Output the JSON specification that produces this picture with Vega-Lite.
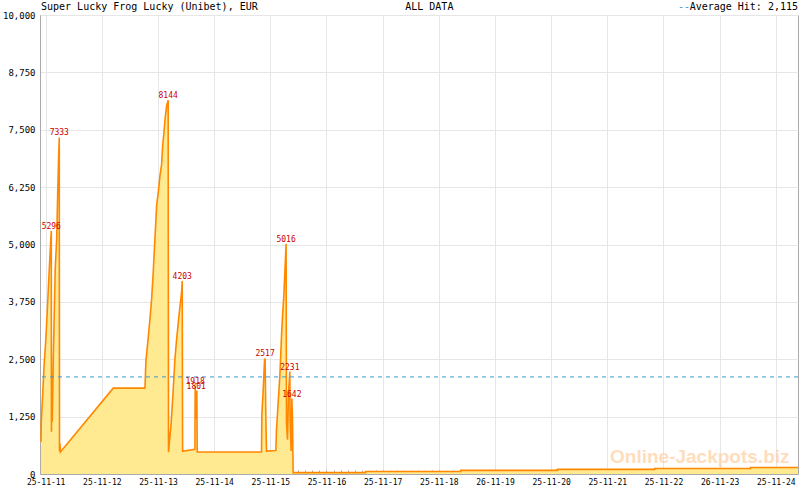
{
  "$schema": "https://vega.github.io/schema/vega-lite/v6.json",
  "autosize": "none",
  "width": 758,
  "height": 459,
  "padding": {"left": 40, "top": 15, "right": 2, "bottom": 16},
  "background": "white",
  "config": {
    "font": "DejaVu Sans Mono",
    "view": {"stroke": "#aaaaaa", "strokeWidth": 1},
    "axis": {"domainColor": "#aaaaaa", "gridColor": "#e6e6e6", "labelColor": "#000000", "labelFont": "DejaVu Sans Mono"}
  },
  "resolve": {"axis": {"x": "independent", "y": "independent"}},
  "datasets": {
    "series": [
      {"d": 10.916, "v": 700},
      {"d": 10.922, "v": 1140},
      {"d": 10.940, "v": 1580},
      {"d": 10.957, "v": 2000},
      {"d": 10.975, "v": 2430},
      {"d": 11.000, "v": 2870},
      {"d": 11.018, "v": 3300},
      {"d": 11.036, "v": 3740},
      {"d": 11.053, "v": 4180},
      {"d": 11.071, "v": 4620},
      {"d": 11.089, "v": 5060},
      {"d": 11.100, "v": 5296, "label": "5296"},
      {"d": 11.103, "v": 920},
      {"d": 11.112, "v": 2120},
      {"d": 11.117, "v": 1140},
      {"d": 11.135, "v": 2470},
      {"d": 11.153, "v": 3500},
      {"d": 11.171, "v": 4510},
      {"d": 11.196, "v": 5100},
      {"d": 11.214, "v": 6120},
      {"d": 11.231, "v": 6920},
      {"d": 11.242, "v": 7333, "label": "7333"},
      {"d": 11.246, "v": 490},
      {"d": 11.254, "v": 670},
      {"d": 11.263, "v": 480},
      {"d": 12.203, "v": 1870},
      {"d": 12.767, "v": 1870},
      {"d": 12.785, "v": 2460},
      {"d": 12.826, "v": 2970},
      {"d": 12.856, "v": 3370},
      {"d": 12.886, "v": 3800},
      {"d": 12.915, "v": 4390},
      {"d": 12.932, "v": 4820},
      {"d": 12.957, "v": 5400},
      {"d": 12.975, "v": 5840},
      {"d": 13.004, "v": 6130},
      {"d": 13.034, "v": 6490},
      {"d": 13.064, "v": 6740},
      {"d": 13.082, "v": 7140},
      {"d": 13.105, "v": 7430},
      {"d": 13.128, "v": 7760},
      {"d": 13.153, "v": 8020},
      {"d": 13.181, "v": 8144, "label": "8144"},
      {"d": 13.187, "v": 475},
      {"d": 13.212, "v": 820},
      {"d": 13.230, "v": 1040},
      {"d": 13.253, "v": 1480},
      {"d": 13.278, "v": 1990},
      {"d": 13.301, "v": 2500},
      {"d": 13.331, "v": 2930},
      {"d": 13.367, "v": 3370},
      {"d": 13.395, "v": 3690},
      {"d": 13.420, "v": 3950},
      {"d": 13.431, "v": 4203, "label": "4203"},
      {"d": 13.438, "v": 497},
      {"d": 13.657, "v": 540},
      {"d": 13.662, "v": 1918, "label": "1918"},
      {"d": 13.674, "v": 1200},
      {"d": 13.680, "v": 1801, "label": "1801"},
      {"d": 13.692, "v": 1801},
      {"d": 13.698, "v": 480},
      {"d": 14.843, "v": 480},
      {"d": 14.849, "v": 1300},
      {"d": 14.872, "v": 1800},
      {"d": 14.897, "v": 2490},
      {"d": 14.907, "v": 2517, "label": "2517"},
      {"d": 14.920, "v": 1225},
      {"d": 14.932, "v": 500},
      {"d": 15.098, "v": 510},
      {"d": 15.110, "v": 970},
      {"d": 15.169, "v": 2130},
      {"d": 15.199, "v": 3000},
      {"d": 15.217, "v": 3440},
      {"d": 15.240, "v": 3870},
      {"d": 15.258, "v": 4380},
      {"d": 15.281, "v": 5016, "label": "5016"},
      {"d": 15.288, "v": 1080},
      {"d": 15.306, "v": 750},
      {"d": 15.324, "v": 1770},
      {"d": 15.347, "v": 2231, "label": "2231"},
      {"d": 15.352, "v": 1190},
      {"d": 15.370, "v": 500},
      {"d": 15.383, "v": 1642, "label": "1642"},
      {"d": 15.395, "v": 1190},
      {"d": 15.406, "v": 30},
      {"d": 16.694, "v": 30},
      {"d": 16.695, "v": 55},
      {"d": 18.390, "v": 55},
      {"d": 18.391, "v": 80},
      {"d": 20.110, "v": 80},
      {"d": 20.111, "v": 100},
      {"d": 21.842, "v": 100},
      {"d": 21.843, "v": 120},
      {"d": 23.550, "v": 120},
      {"d": 23.551, "v": 140},
      {"d": 24.395, "v": 140}
    ],
    "average": [{"avg": 2115}]
  },
  "layer": [
    {
      "data": {"name": "series"},
      "mark": {"type": "area", "color": "#ffe991", "opacity": 1, "line": {"color": "#ff8800", "strokeWidth": 1.6}},
      "encoding": {
        "x": {
          "field": "d",
          "type": "quantitative",
          "scale": {"domain": [10.899, 24.395], "nice": false, "zero": false},
          "axis": {
            "orient": "bottom",
            "title": null,
            "values": [11, 11.125, 11.25, 11.375, 11.5, 11.625, 11.75, 11.875, 12, 12.125, 12.25, 12.375, 12.5, 12.625, 12.75, 12.875, 13, 13.125, 13.25, 13.375, 13.5, 13.625, 13.75, 13.875, 14, 14.125, 14.25, 14.375, 14.5, 14.625, 14.75, 14.875, 15, 15.125, 15.25, 15.375, 15.5, 15.625, 15.75, 15.875, 16, 16.125, 16.25, 16.375, 16.5, 16.625, 16.75, 16.875, 17, 17.125, 17.25, 17.375, 17.5, 17.625, 17.75, 17.875, 18, 18.125, 18.25, 18.375, 18.5, 18.625, 18.75, 18.875, 19, 19.125, 19.25, 19.375, 19.5, 19.625, 19.75, 19.875, 20, 20.125, 20.25, 20.375, 20.5, 20.625, 20.75, 20.875, 21, 21.125, 21.25, 21.375, 21.5, 21.625, 21.75, 21.875, 22, 22.125, 22.25, 22.375, 22.5, 22.625, 22.75, 22.875, 23, 23.125, 23.25, 23.375, 23.5, 23.625, 23.75, 23.875, 24, 24.125, 24.25, 24.375],
            "labelExpr": "datum.value % 1 != 0 ? '' : ((datum.value == 19 || datum.value == 23) ? '26-11-' : '25-11-') + datum.value",
            "labelOverlap": false,
            "labelFlush": false,
            "labelFont": "DejaVu Sans Mono",
            "labelFontSize": 8,
            "labelPadding": 8,
            "tickSize": -4,
            "tickColor": "#aaaaaa",
            "gridOpacity": {"condition": {"test": "datum.value % 1 == 0", "value": 1}, "value": 0}
          }
        },
        "y": {
          "field": "v",
          "type": "quantitative",
          "scale": {"domain": [0, 10000], "nice": false},
          "axis": {
            "orient": "left",
            "title": null,
            "values": [0, 1250, 2500, 3750, 5000, 6250, 7500, 8750, 10000],
            "format": ",.0f",
            "ticks": false,
            "labelPadding": 5,
            "labelFont": "DejaVu Sans Mono",
            "labelFontSize": 9
          }
        }
      }
    },
    {
      "data": {"values": [{}]},
      "mark": {"type": "text", "text": "Online-Jackpots.biz", "font": "Liberation Sans", "fontSize": 19, "fontWeight": "bold", "color": "#ffd2a6", "opacity": 0.75, "align": "right", "baseline": "alphabetic"},
      "encoding": {
        "x": {"datum": 24.244, "type": "quantitative", "axis": null},
        "y": {"datum": 250, "type": "quantitative", "axis": null}
      }
    },
    {
      "data": {"name": "average"},
      "mark": {"type": "rule", "color": "#3d97cf", "strokeWidth": 1, "strokeDash": [4, 4]},
      "encoding": {
        "y": {"field": "avg", "type": "quantitative", "axis": null}
      }
    },
    {
      "data": {"name": "series"},
      "transform": [{"filter": "isValid(datum.label)"}],
      "mark": {"type": "text", "color": "#cc0000", "fontSize": 8, "font": "DejaVu Sans Mono", "baseline": "bottom", "align": "center", "dy": 0},
      "encoding": {
        "x": {"field": "d", "type": "quantitative", "axis": null},
        "y": {"field": "v", "type": "quantitative", "axis": null},
        "text": {"field": "label"}
      }
    },
    {
      "data": {"values": [{}]},
      "mark": {"type": "text", "text": "Super Lucky Frog Lucky (Unibet), EUR", "fontSize": 10, "font": "DejaVu Sans Mono", "color": "#000000", "align": "left", "baseline": "bottom", "dy": -3, "dx": 1},
      "encoding": {
        "x": {"datum": 10.899, "type": "quantitative", "axis": null},
        "y": {"datum": 10000, "type": "quantitative", "axis": null}
      }
    },
    {
      "data": {"values": [{}]},
      "mark": {"type": "text", "text": "ALL DATA", "fontSize": 10, "font": "DejaVu Sans Mono", "color": "#000000", "align": "left", "baseline": "bottom", "dy": -3},
      "encoding": {
        "x": {"datum": 17.402, "type": "quantitative", "axis": null},
        "y": {"datum": 10000, "type": "quantitative", "axis": null}
      }
    },
    {
      "data": {"values": [{}]},
      "mark": {"type": "text", "text": "--", "fontSize": 10, "font": "DejaVu Sans Mono", "color": "#3d97cf", "align": "right", "baseline": "bottom", "dy": -3},
      "encoding": {
        "x": {"datum": 22.473, "type": "quantitative", "axis": null},
        "y": {"datum": 10000, "type": "quantitative", "axis": null}
      }
    },
    {
      "data": {"values": [{}]},
      "mark": {"type": "text", "text": "Average Hit: 2,115", "fontSize": 10, "font": "DejaVu Sans Mono", "color": "#000000", "align": "right", "baseline": "bottom", "dy": -3},
      "encoding": {
        "x": {"datum": 24.395, "type": "quantitative", "axis": null},
        "y": {"datum": 10000, "type": "quantitative", "axis": null}
      }
    }
  ]
}
